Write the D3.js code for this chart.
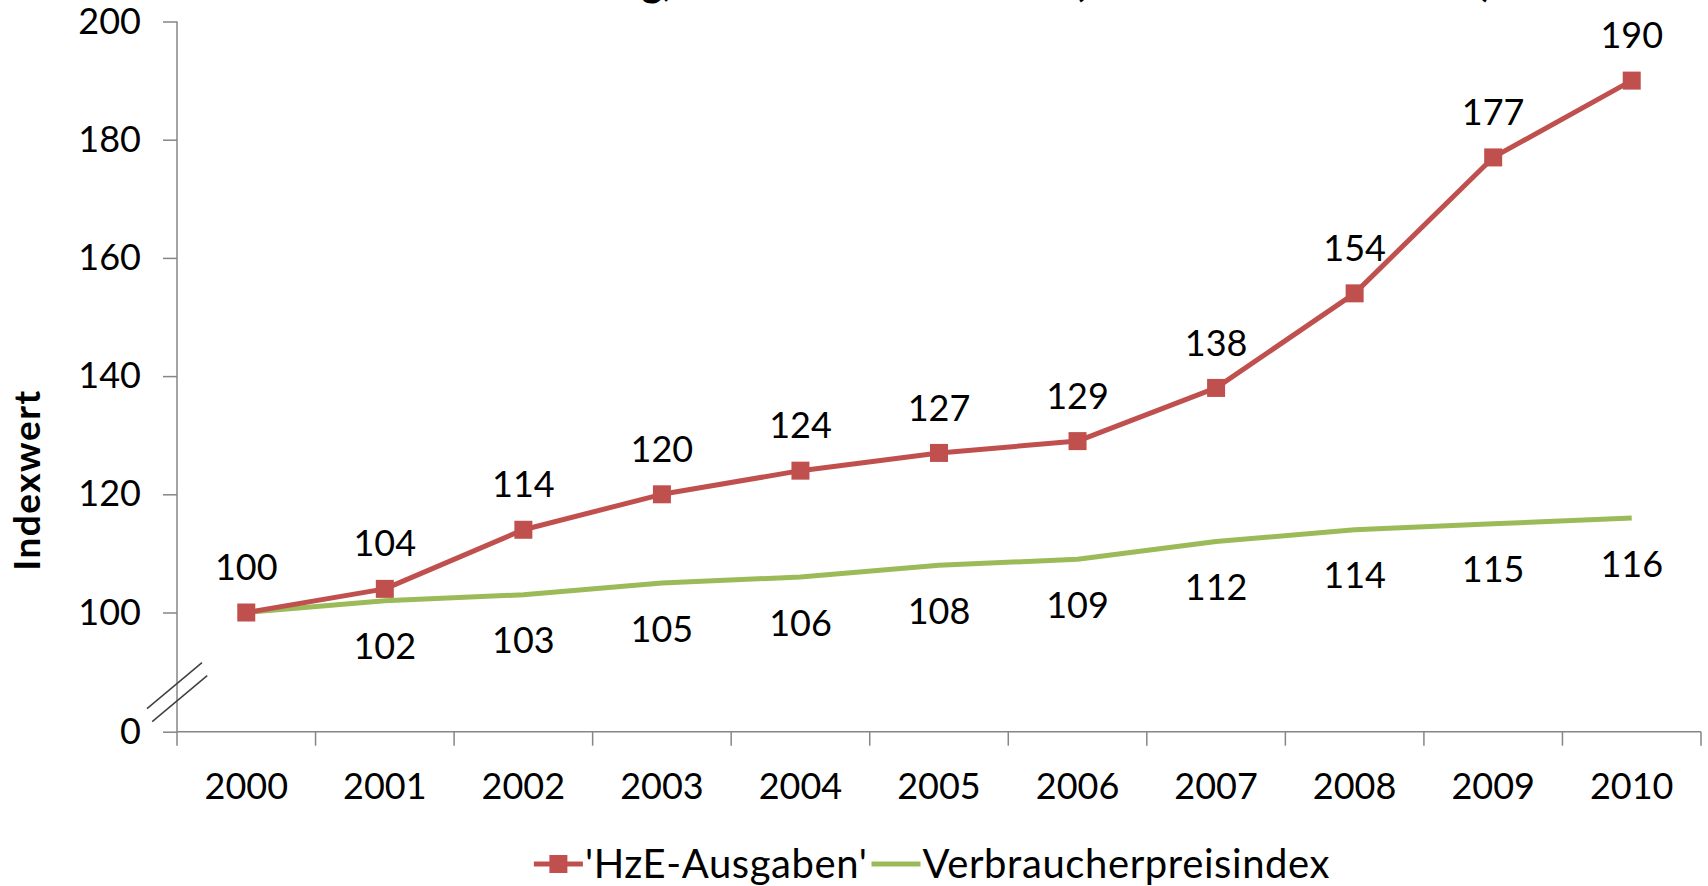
<!DOCTYPE html>
<html>
<head>
<meta charset="utf-8">
<script src="https://cdn.jsdelivr.net/npm/d3@7"></script>
<style>
    body { margin: 0; background: #fff; }
    svg text { font-family: Lato, "Open Sans", sans-serif; fill: #000; }
</style>
</head>
<body>
<div id="chart"></div>
<script>
const years = ['2000', '2001', '2002', '2003', '2004', '2005', '2006', '2007', '2008', '2009', '2010'];
const hzeValues = [100, 104, 114, 120, 124, 127, 129, 138, 154, 177, 190];
const vpiValues = [100, 102, 103, 105, 106, 108, 109, 112, 114, 115, 116];
const yTicks = [0, 100, 120, 140, 160, 180, 200];
const seriesNames = ["'HzE-Ausgaben'", 'Verbraucherpreisindex'];
const titleParts = ['Relative Entwicklung,', 'Ausbau und Inflation', '(Indexwert 2000 = 100)'];

const width = 1708;
const height = 886;
const red = '#C0504D';
const green = '#9BBB59';
const axisGrey = '#868686';

const svg = d3.select('#chart').append('svg')
    .attr('width', width)
    .attr('height', height);

// scales - y has a break between 0 and 100
const xScale = d3.scaleBand()
    .domain(years)
    .range([177, 1701]);

const yScale = d3.scaleLinear()
    .domain([0, 100, 200])
    .range([731.7, 612.5, 21.5]);

const cx = d => xScale(d) + xScale.bandwidth() / 2;

// title (cut off at the top of the picture)
const title = svg.append('text')
    .attr('y', -4)
    .attr('font-size', 40)
    .attr('font-weight', 'bold');
title.append('tspan').attr('x', 672).attr('text-anchor', 'end').text(titleParts[0]);
title.append('tspan').attr('x', 870).attr('text-anchor', 'middle').text(titleParts[1]);
title.append('tspan').attr('x', 1283).attr('text-anchor', 'middle').text(titleParts[2]);

// y axis
const yAxis = d3.axisLeft(yScale)
    .tickValues(yTicks)
    .tickSize(14)
    .tickPadding(22);

const gy = svg.append('g')
    .attr('transform', 'translate(177,0)')
    .call(yAxis);
gy.select('.domain').remove();
gy.selectAll('.tick line').attr('stroke', axisGrey).attr('stroke-width', 1.5);
gy.selectAll('.tick text')
    .attr('font-size', 36)
    .attr('font-family', 'Lato, sans-serif')
    .attr('fill', '#000');

svg.append('line')
    .attr('x1', 177).attr('x2', 177)
    .attr('y1', yScale(200)).attr('y2', yScale(0) + 14)
    .attr('stroke', axisGrey)
    .attr('stroke-width', 1.5);

// axis break marks
[0, 13].forEach(off => {
    svg.append('line')
        .attr('x1', 147 + off * 0.4).attr('y1', yScale(0) - 23 + off)
        .attr('x2', 202 + off * 0.4).attr('y2', yScale(0) - 69 + off)
        .attr('stroke', '#404040')
        .attr('stroke-width', 1.5);
});

// x axis
svg.append('line')
    .attr('x1', 177).attr('x2', 1701)
    .attr('y1', yScale(0)).attr('y2', yScale(0))
    .attr('stroke', axisGrey)
    .attr('stroke-width', 1.5);

svg.selectAll('.x-tick')
    .data(years.slice(1).concat(['end']))
    .enter()
    .append('line')
    .classed('x-tick', true)
    .attr('x1', d => d === 'end' ? 1701 : xScale(d))
    .attr('x2', d => d === 'end' ? 1701 : xScale(d))
    .attr('y1', yScale(0))
    .attr('y2', yScale(0) + 14)
    .attr('stroke', axisGrey)
    .attr('stroke-width', 1.5);

svg.selectAll('.x-label')
    .data(years)
    .enter()
    .append('text')
    .classed('x-label', true)
    .attr('x', d => cx(d))
    .attr('y', 786)
    .attr('dy', '0.35em')
    .attr('text-anchor', 'middle')
    .attr('font-size', 36)
    .text(d => d);

// axis title
svg.append('text')
    .attr('transform', 'translate(27,480) rotate(-90)')
    .attr('text-anchor', 'middle')
    .attr('dy', '0.35em')
    .attr('font-size', 37)
    .attr('letter-spacing', 1.5)
    .attr('font-weight', 'bold')
    .text('Indexwert');

// lines
const line = d3.line()
    .x((d, i) => cx(years[i]))
    .y(d => yScale(d));

svg.append('path')
    .datum(vpiValues)
    .attr('d', line)
    .attr('fill', 'none')
    .attr('stroke', green)
    .attr('stroke-width', 5)
    .attr('stroke-linejoin', 'round');

svg.append('path')
    .datum(hzeValues)
    .attr('d', line)
    .attr('fill', 'none')
    .attr('stroke', red)
    .attr('stroke-width', 5)
    .attr('stroke-linejoin', 'round');

svg.selectAll('.marker')
    .data(hzeValues)
    .enter()
    .append('rect')
    .classed('marker', true)
    .attr('x', (d, i) => cx(years[i]) - 9)
    .attr('y', d => yScale(d) - 9)
    .attr('width', 18)
    .attr('height', 18)
    .attr('fill', red);

// data labels
svg.selectAll('.hze-label')
    .data(hzeValues)
    .enter()
    .append('text')
    .attr('x', (d, i) => cx(years[i]))
    .attr('y', d => yScale(d) - 45)
    .attr('dy', '0.35em')
    .attr('text-anchor', 'middle')
    .attr('font-size', 36)
    .text(d => d);

svg.selectAll('.vpi-label')
    .data(vpiValues)
    .enter()
    .append('text')
    .attr('x', (d, i) => cx(years[i]))
    .attr('y', (d, i) => yScale(d) + (i === 0 ? -45 : 46))
    .attr('dy', '0.35em')
    .attr('text-anchor', 'middle')
    .attr('font-size', 36)
    .text((d, i) => i === 0 ? '' : d);

// legend
const legend = svg.append('g').attr('transform', 'translate(0,864)');
let lx = 0;
[red, green].forEach((col, i) => {
    legend.append('line')
        .attr('x1', lx).attr('x2', lx + 49)
        .attr('y1', 0).attr('y2', 0)
        .attr('stroke', col)
        .attr('stroke-width', 5);
    if (i === 0) {
        legend.append('rect')
            .attr('x', lx + 24.5 - 9).attr('y', -9)
            .attr('width', 18).attr('height', 18)
            .attr('fill', col);
    }
    const t = legend.append('text')
        .attr('x', lx + 51)
        .attr('y', 0)
        .attr('dy', '0.35em')
        .attr('font-size', 40)
        .attr('letter-spacing', 0.6)
        .text(seriesNames[i]);
    lx += 51 + t.node().getComputedTextLength() + 4;
});
legend.attr('transform', `translate(${930 - lx / 2 + 4},864)`);
</script>
</body>
</html>
